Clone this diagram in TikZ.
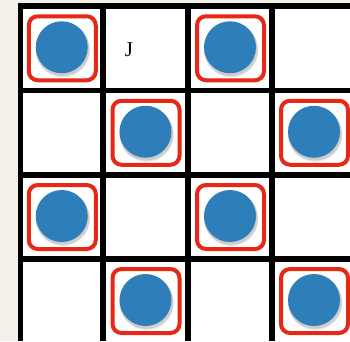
\documentclass[tikz,border=0pt]{standalone}
\usepackage{fontspec}
\setmainfont{Liberation Serif}
\begin{document}
\begin{tikzpicture}[x=1pt,y=-1pt,
  gridline/.style={line width=5.5pt,black},
  token/.style={draw=tokred,line width=4pt,rounded corners=9pt,minimum width=67pt,minimum height=64pt,inner sep=0pt},
  disc/.style={circle,fill=tokblue,minimum size=52pt,inner sep=0pt},
  discshadow/.style={circle,fill=black,opacity=0.10,minimum size=54pt,inner sep=0pt},
  lbl/.style={font=\fontsize{21pt}{21pt}\selectfont,inner sep=0pt}]
\definecolor{tokred}{RGB}{232,40,22}
\definecolor{tokblue}{RGB}{46,126,186}
\definecolor{paper}{RGB}{244,240,232}
\useasboundingbox (0,0) rectangle (350,341);
\fill[paper] (0,0) rectangle (350,341);
\fill[white] (18,3) rectangle (350,341);
% grid
\foreach \gx in {20.5,103,188,272} \draw[gridline] (\gx,3.2) -- (\gx,341);
\foreach \gy in {6,90.5,175,259} \draw[gridline] (18,\gy) -- (350,\gy);
% tokens
\foreach \n/\cx/\cy in {a/61.75/48.25, b/230/48.25, c/145.5/132.75, d/314/132.75, e/61.75/217, f/230/217, g/145.5/301, h/314/301}{
  \node[token] (r\n) at (\cx+0.5,\cy) {};
  \node[discshadow] (s\n) at (\cx+1.2,\cy+2) {};
  \node[discshadow] (t\n) at (\cx+0.8,\cy+0.8) {};
  \node[disc] (c\n) at (\cx,\cy-1) {};
}
\node[lbl] (j) at (129,50) {J};
\end{tikzpicture}
\end{document}
